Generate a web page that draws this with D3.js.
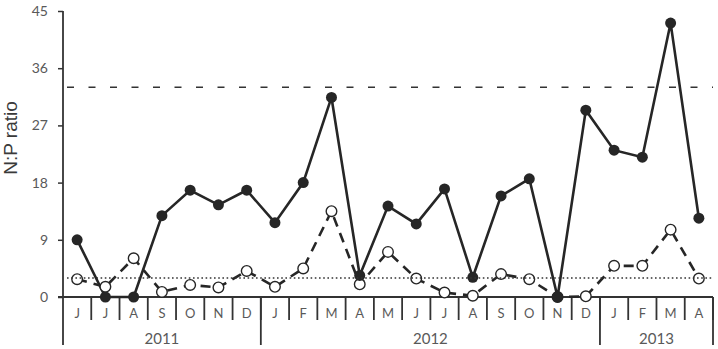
<!DOCTYPE html>
<html>
<head>
<meta charset="utf-8">
<script src="https://cdn.jsdelivr.net/npm/d3@7"></script>
<style>
  body { margin: 0; background: #fff; }
  svg { display: block; }
</style>
</head>
<body>
<div id="chart"></div>
<script>
// datos
var months = ["J","J","A","S","O","N","D","J","F","M","A","M","J","J","A","S","O","N","D","J","F","M","A"];
var yearLabels = ["2011", "2012", "2013"];
var yearMonths = [7, 12, 4];
var filledSeries = [9, 0, 0, 12.8, 16.8, 14.5, 16.8, 11.7, 18.0, 31.4, 3.4, 14.3, 11.5, 17.0, 3.1, 15.9, 18.6, 0, 29.4, 23.1, 22.0, 43.1, 12.4];
var openSeries = [2.8, 1.6, 6.1, 0.8, 1.9, 1.5, 4.1, 1.6, 4.5, 13.5, 2.0, 7.1, 2.9, 0.7, 0.2, 3.6, 2.8, 0, 0.1, 4.9, 4.9, 10.6, 2.9];
var yTicks = [0, 9, 18, 27, 36, 45];
var refHigh = 33;
var refLow = 3;

var width = 718, height = 349;
var mLeft = 63, mRight = 713, mTop = 11, mBottom = 297;

var svg = d3.select("#chart").append("svg")
    .attr("width", width)
    .attr("height", height);

var x = d3.scaleBand()
    .domain(d3.range(months.length))
    .range([mLeft, mRight])
    .padding(0);

var y = d3.scaleLinear()
    .domain([0, 45])
    .range([mBottom, mTop]);

var ink = "#262626";
var labelColor = "#595959";

// eje Y
var yAxis = svg.append("g")
    .attr("transform", "translate(" + mLeft + ",0)")
    .call(d3.axisLeft(y).tickValues(yTicks).tickSize(5).tickPadding(10));
yAxis.select(".domain").remove();
yAxis.selectAll(".tick line").attr("stroke", "#333").attr("stroke-width", 1.5);
yAxis.selectAll(".tick text")
    .attr("fill", labelColor)
    .style("font-family", "Lato, 'Open Sans', sans-serif")
    .style("font-size", "14px");

svg.append("line")
    .attr("x1", mLeft).attr("x2", mLeft)
    .attr("y1", mTop).attr("y2", 345)
    .attr("stroke", "#333").attr("stroke-width", 1.8);

svg.append("text")
    .attr("transform", "translate(17," + 138 + ") rotate(-90)")
    .attr("text-anchor", "middle")
    .attr("fill", "#3a3a3a")
    .style("font-family", "'Liberation Sans', Arial, sans-serif")
    .style("font-size", "19px")
    .text("N:P ratio");

// eje X (meses y años)
svg.append("line")
    .attr("x1", mLeft - 5).attr("x2", mRight)
    .attr("y1", mBottom).attr("y2", mBottom)
    .attr("stroke", "#333").attr("stroke-width", 1.8);

var bw = x.bandwidth();
svg.selectAll(".mdiv")
    .data(d3.range(1, months.length + 1))
    .enter().append("line")
    .attr("class", "mdiv")
    .attr("x1", function(i) { return i < months.length ? x(i) : mRight; })
    .attr("x2", function(i) { return i < months.length ? x(i) : mRight; })
    .attr("y1", mBottom)
    .attr("y2", 320)
    .attr("stroke", "#333").attr("stroke-width", 1.8);

svg.selectAll(".mlab")
    .data(months)
    .enter().append("text")
    .attr("class", "mlab")
    .attr("x", function(d, i) { return x(i) + bw / 2; })
    .attr("y", 318)
    .attr("text-anchor", "middle")
    .attr("fill", labelColor)
    .style("font-family", "Lato, 'Open Sans', sans-serif")
    .style("font-size", "13px")
    .text(function(d) { return d; });

var starts = [0];
yearMonths.forEach(function(n, i) { starts.push(starts[i] + n); });

svg.selectAll(".ydiv")
    .data(starts.slice(1))
    .enter().append("line")
    .attr("class", "ydiv")
    .attr("x1", function(s) { return s < months.length ? x(s) : mRight; })
    .attr("x2", function(s) { return s < months.length ? x(s) : mRight; })
    .attr("y1", mBottom)
    .attr("y2", 345)
    .attr("stroke", "#333").attr("stroke-width", 1.8);

svg.selectAll(".ylab")
    .data(yearLabels)
    .enter().append("text")
    .attr("class", "ylab")
    .attr("x", function(d, i) {
        var a = x(starts[i]);
        var b = starts[i + 1] < months.length ? x(starts[i + 1]) : mRight;
        return (a + b) / 2;
    })
    .attr("y", 344)
    .attr("text-anchor", "middle")
    .attr("fill", labelColor)
    .style("font-family", "Lato, 'Open Sans', sans-serif")
    .style("font-size", "15px")
    .text(function(d) { return d; });

// series
var line = d3.line()
    .x(function(d, i) { return x(i) + bw / 2; })
    .y(function(d) { return y(d); });

svg.append("path")
    .datum(filledSeries)
    .attr("d", line)
    .attr("fill", "none")
    .attr("stroke", ink)
    .attr("stroke-width", 2.6);

svg.append("path")
    .datum(openSeries)
    .attr("d", line)
    .attr("fill", "none")
    .attr("stroke", ink)
    .attr("stroke-width", 2.6)
    .attr("stroke-dasharray", "10,7");

svg.selectAll(".open")
    .data(openSeries)
    .enter().append("circle")
    .attr("class", "open")
    .attr("cx", function(d, i) { return x(i) + bw / 2; })
    .attr("cy", function(d) { return y(d); })
    .attr("r", 5.3)
    .attr("fill", "#fff")
    .attr("stroke", ink)
    .attr("stroke-width", 1.4);

svg.selectAll(".filled")
    .data(filledSeries)
    .enter().append("circle")
    .attr("class", "filled")
    .attr("cx", function(d, i) { return x(i) + bw / 2; })
    .attr("cy", function(d) { return y(d); })
    .attr("r", 5.5)
    .attr("fill", ink);

// líneas de referencia
svg.append("line")
    .attr("x1", mLeft + 4).attr("x2", mRight)
    .attr("y1", y(refHigh)).attr("y2", y(refHigh))
    .attr("stroke", "#333").attr("stroke-width", 1.6)
    .attr("stroke-dasharray", "7,14.5");

svg.append("line")
    .attr("x1", mLeft + 4).attr("x2", mRight)
    .attr("y1", y(refLow)).attr("y2", y(refLow))
    .attr("stroke", "#333").attr("stroke-width", 1.6)
    .attr("stroke-dasharray", "1.6,2.6");
</script>
</body>
</html>
